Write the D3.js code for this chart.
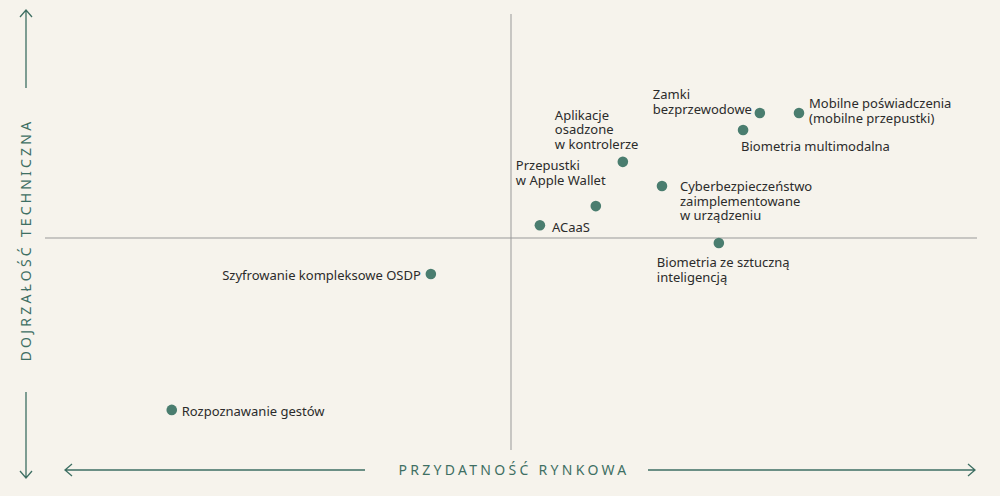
<!DOCTYPE html>
<html><head><meta charset="utf-8">
<script src="https://cdn.jsdelivr.net/npm/d3@7"></script>
<style>body{margin:0;background:#f6f3ec;}svg{display:block;font-family:"Noto Sans",sans-serif;}</style>
</head><body><svg id="c" width="1000" height="496"></svg>
<script>
const names = [
  ["Zamki", "bezprzewodowe"],
  ["Mobilne poświadczenia", "(mobilne przepustki)"],
  ["Biometria multimodalna"],
  ["Aplikacje", "osadzone", "w kontrolerze"],
  ["Przepustki", "w Apple Wallet"],
  ["Cyberbezpieczeństwo", "zaimplementowane", "w urządzeniu"],
  ["ACaaS"],
  ["Biometria ze sztuczną", "inteligencją"],
  ["Szyfrowanie kompleksowe OSDP"],
  ["Rozpoznawanie gestów"]
];
const usefulness = [2.67, 3.09, 2.49, 1.20, 0.91, 1.62, 0.31, 2.23, -0.86, -3.64];
const maturity = [2.74, 2.74, 2.37, 1.67, 0.70, 1.14, 0.28, -0.11, -0.79, -3.77];
// label placement: [dx, dy of first line, anchor]
const place = [
  [-107, -18, "start"], [10, -9, "start"], [-2, 17, "start"], [-68, -46, "start"],
  [-80, -40, "start"], [18, 1, "start"], [12, 3, "start"], [-62, 20, "start"],
  [-10, 2, "end"], [10, 2, "start"]
];

const svg = d3.select("#c");
const x = d3.scaleLinear().domain([-5, 5]).range([45, 977]);
const y = d3.scaleLinear().domain([-5, 5]).range([466, 10]);
const teal = "#4a7d6f", axisCol = "#3e6f63";

svg.append("line").attr("x1", x(0)).attr("x2", x(0)).attr("y1", 14).attr("y2", 450).attr("stroke", "#999").attr("stroke-width", 1);
svg.append("line").attr("x1", 45).attr("x2", 977).attr("y1", y(0)).attr("y2", y(0)).attr("stroke", "#999").attr("stroke-width", 1);

// axis arrows
const ar = svg.append("g").attr("stroke", axisCol).attr("stroke-width", 1.3).attr("fill", "none");
ar.append("path").attr("d", "M26,88V10M20,17L26,10L32,17");
ar.append("path").attr("d", "M26,392V478M20,471L26,478L32,471");
ar.append("path").attr("d", "M365,470H65M72,464L65,470L72,476");
ar.append("path").attr("d", "M648,470H975M968,464L975,470L968,476");

svg.append("text").attr("transform", "translate(31,240) rotate(-90)").attr("text-anchor", "middle")
  .attr("fill", axisCol).attr("font-size", 14).attr("letter-spacing", 3.2).text("DOJRZAŁOŚĆ TECHNICZNA");
svg.append("text").attr("x", 514).attr("y", 475).attr("text-anchor", "middle")
  .attr("fill", axisCol).attr("font-size", 14).attr("letter-spacing", 3.3).text("PRZYDATNOŚĆ RYNKOWA");

const pts = svg.append("g").selectAll("g").data(names).join("g")
  .attr("transform", (d, i) => `translate(${x(usefulness[i])},${y(maturity[i])})`);
pts.append("circle").attr("r", 5.3).attr("fill", teal);
pts.each(function (d, i) {
  const t = d3.select(this).append("text").attr("font-size", 13).attr("fill", "#2b2b2b")
    .attr("text-anchor", place[i][2]);
  d.forEach((line, k) => t.append("tspan").attr("x", place[i][0]).attr("y", place[i][1] + k * 14.5 + 4).text(line));
});
</script></body></html>
